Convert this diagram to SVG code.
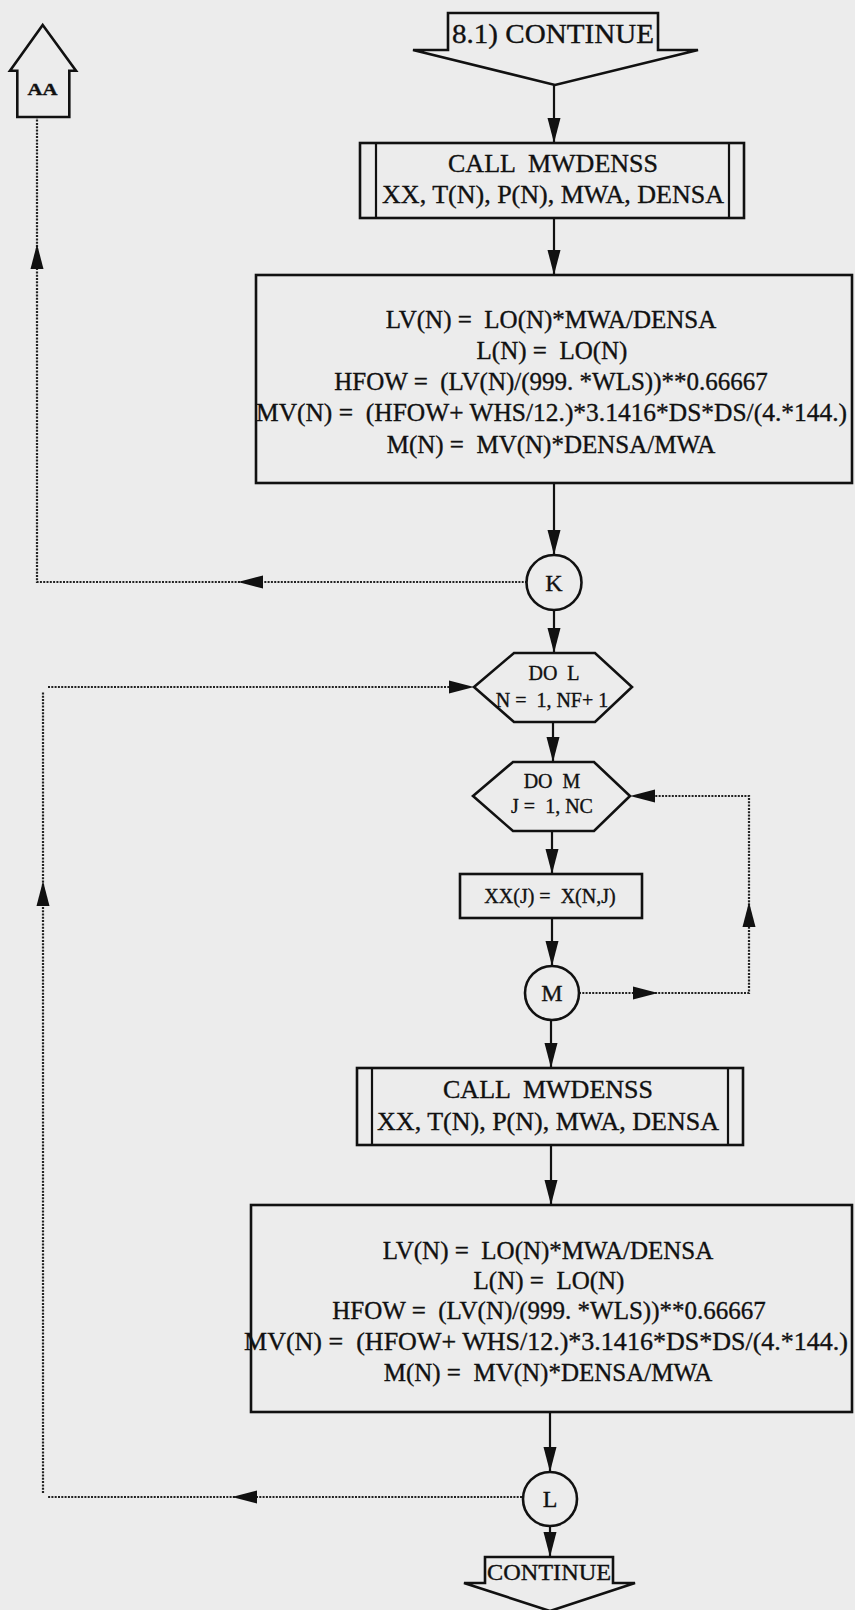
<svg xmlns="http://www.w3.org/2000/svg" xmlns:xlink="http://www.w3.org/1999/xlink" width="855" height="1610" viewBox="0 0 855 1610">
<style>
.s{fill:none;stroke:#111;stroke-width:2.6}
.t{font-family:"Liberation Serif","Times New Roman",serif;fill:#111;stroke:#111;stroke-width:0.35;text-anchor:middle;white-space:pre}
.ln{fill:none;stroke:#111;stroke-width:2.2}
.dot{fill:none;stroke:#222;stroke-width:2.2;stroke-dasharray:2 1.3}
.ah{fill:#111}
</style>
<defs>
<path id="arr" d="M0,0 L-25,-6.5 L-25,6.5 Z"/>
</defs>
<rect width="855" height="1610" fill="#ececec"/>

<g id="connectors">
<path class="ln" d="M554 85 V143 M554 218 V275 M554 483 V555 M554 610 V653 M553 722 V762 M552 831 V874 M552 918 V966 M551 1020 V1068 M551 1145 V1205 M550 1412 V1472 M550 1526 V1557"/>
<use href="#arr" class="ah" transform="translate(554,143) rotate(90)"/>
<use href="#arr" class="ah" transform="translate(554,275) rotate(90)"/>
<use href="#arr" class="ah" transform="translate(554,555) rotate(90)"/>
<use href="#arr" class="ah" transform="translate(554,653) rotate(90)"/>
<use href="#arr" class="ah" transform="translate(553,762) rotate(90)"/>
<use href="#arr" class="ah" transform="translate(552,874) rotate(90)"/>
<use href="#arr" class="ah" transform="translate(552,966) rotate(90)"/>
<use href="#arr" class="ah" transform="translate(551,1068) rotate(90)"/>
<use href="#arr" class="ah" transform="translate(551,1205) rotate(90)"/>
<use href="#arr" class="ah" transform="translate(550,1472) rotate(90)"/>
<use href="#arr" class="ah" transform="translate(550,1557) rotate(90)"/>
<path class="dot" d="M527 582 H37 V117"/>
<use href="#arr" class="ah" transform="translate(238,582) rotate(180)"/>
<use href="#arr" class="ah" transform="translate(37,244) rotate(-90)"/>
<path class="dot" d="M522 1497 H48 M43 1493 V692 M48 687 H450"/>
<use href="#arr" class="ah" transform="translate(232,1497) rotate(180)"/>
<use href="#arr" class="ah" transform="translate(43,881) rotate(-90)"/>
<use href="#arr" class="ah" transform="translate(474,687)"/>
<path class="dot" d="M579 993 H749 V796 H655"/>
<use href="#arr" class="ah" transform="translate(658,993)"/>
<use href="#arr" class="ah" transform="translate(749,902) rotate(-90)"/>
<use href="#arr" class="ah" transform="translate(630,796) rotate(180)"/>
</g>

<g id="aa">
<path class="s" d="M42.7 25 L76 70.7 L69.3 70.7 L69.3 117 L17.3 117 L17.3 70.7 L10 70.7 Z"/>
<text class="t" x="42.5" y="95" font-size="16" font-weight="bold" textLength="30" lengthAdjust="spacingAndGlyphs">AA</text>
</g>

<g id="start">
<path class="s" d="M448 13 H658 V50 H698 L555 85 L413 50 H448 Z"/>
<text class="t" x="553" y="43" font-size="28" textLength="202" lengthAdjust="spacingAndGlyphs">8.1) CONTINUE</text>
</g>

<g id="call1">
<rect class="s" x="360" y="143" width="384" height="75"/>
<path class="ln" d="M376 143 V218 M729 143 V218"/>
<text class="t" x="553" y="172" font-size="26">CALL  MWDENSS</text>
<text class="t" x="553" y="203" font-size="26">XX, T(N), P(N), MWA, DENSA</text>
</g>

<g id="calc1">
<rect class="s" x="256" y="275" width="596" height="208"/>
<text class="t" x="551" y="328" font-size="25">LV(N) =  LO(N)*MWA/DENSA</text>
<text class="t" x="552" y="359" font-size="25">L(N) =  LO(N)</text>
<text class="t" x="551" y="390" font-size="25">HFOW =  (LV(N)/(999. *WLS))**0.66667</text>
<text class="t" x="256" y="421" font-size="25" style="text-anchor:start" textLength="591" lengthAdjust="spacingAndGlyphs">MV(N) =  (HFOW+ WHS/12.)*3.1416*DS*DS/(4.*144.)</text>
<text class="t" x="551" y="453" font-size="25">M(N) =  MV(N)*DENSA/MWA</text>
</g>

<g id="k">
<circle class="s" cx="554" cy="582.5" r="27.5"/>
<text class="t" x="554" y="591" font-size="24">K</text>
</g>

<g id="dol">
<path class="s" d="M474 687 L514 653 H595 L632 687 L595 722 H514 Z"/>
<text class="t" x="554" y="680" font-size="20">DO  L</text>
<text class="t" x="552" y="707" font-size="20">N =  1, NF+ 1</text>
</g>

<g id="dom">
<path class="s" d="M473 796 L513 762 H594 L630 796 L594 831 H513 Z"/>
<text class="t" x="552" y="788" font-size="20">DO  M</text>
<text class="t" x="552" y="813" font-size="20">J =  1, NC</text>
</g>

<g id="xx">
<rect class="s" x="460" y="874" width="182" height="44"/>
<text class="t" x="550" y="903" font-size="20">XX(J) =  X(N,J)</text>
</g>

<g id="m">
<circle class="s" cx="552" cy="993" r="27"/>
<text class="t" x="552" y="1001" font-size="24">M</text>
</g>

<g id="call2">
<rect class="s" x="357" y="1068" width="386" height="77"/>
<path class="ln" d="M372 1068 V1145 M728 1068 V1145"/>
<text class="t" x="548" y="1098" font-size="26">CALL  MWDENSS</text>
<text class="t" x="548" y="1130" font-size="26">XX, T(N), P(N), MWA, DENSA</text>
</g>

<g id="calc2">
<rect class="s" x="251" y="1205" width="601" height="207"/>
<text class="t" x="548" y="1259" font-size="25">LV(N) =  LO(N)*MWA/DENSA</text>
<text class="t" x="549" y="1289" font-size="25">L(N) =  LO(N)</text>
<text class="t" x="549" y="1319" font-size="25">HFOW =  (LV(N)/(999. *WLS))**0.66667</text>
<text class="t" x="244" y="1350" font-size="25" style="text-anchor:start" textLength="604" lengthAdjust="spacingAndGlyphs">MV(N) =  (HFOW+ WHS/12.)*3.1416*DS*DS/(4.*144.)</text>
<text class="t" x="548" y="1381" font-size="25">M(N) =  MV(N)*DENSA/MWA</text>
</g>

<g id="l">
<circle class="s" cx="550" cy="1499" r="27"/>
<text class="t" x="550" y="1507" font-size="24">L</text>
</g>

<g id="end">
<path class="s" d="M485 1557 H613 V1583 H635 L550 1611 L464 1583 H485 Z"/>
<text class="t" x="549" y="1580" font-size="23" textLength="124" lengthAdjust="spacingAndGlyphs">CONTINUE</text>
</g>
</svg>
